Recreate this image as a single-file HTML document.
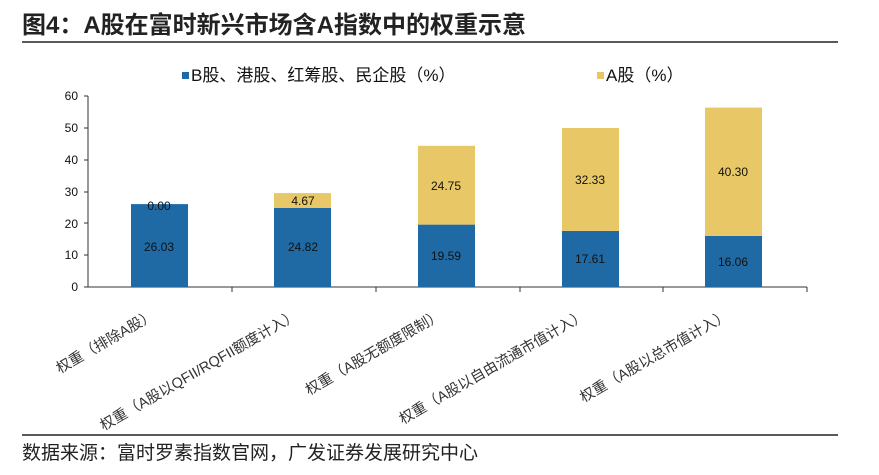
<!DOCTYPE html>
<html><head><meta charset="utf-8"><style>
body{margin:0;background:#fff;width:879px;height:475px;overflow:hidden}
svg{display:block}
</style></head><body>
<svg width="879" height="475" xmlns="http://www.w3.org/2000/svg" font-family="Liberation Sans, Noto Sans CJK SC, sans-serif">
<text x="22" y="33" font-size="24" font-weight="bold" fill="#222">图4：A股在富时新兴市场含A指数中的权重示意</text>
<line x1="22" y1="42" x2="838" y2="42" stroke="#222" stroke-width="1.5"/>
<rect x="182" y="72" width="7" height="7" fill="#1F6AA5"/>
<text x="191" y="81" font-size="17" fill="#111">B股、港股、红筹股、民企股（%）</text>
<rect x="597" y="72" width="7" height="7" fill="#E8C766"/>
<text x="606" y="81" font-size="17" fill="#111">A股（%）</text>
<g font-size="12" fill="#111" text-anchor="end">
<text x="78" y="100">60</text><text x="78" y="132">50</text><text x="78" y="164">40</text><text x="78" y="196">30</text><text x="78" y="228">20</text><text x="78" y="259">10</text><text x="78" y="291">0</text>
</g>
<g stroke="#333" stroke-width="1">
<line x1="88" y1="96" x2="88" y2="287"/>
<line x1="84" y1="96" x2="88" y2="96"/><line x1="84" y1="128" x2="88" y2="128"/><line x1="84" y1="160" x2="88" y2="160"/><line x1="84" y1="192" x2="88" y2="192"/><line x1="84" y1="223" x2="88" y2="223"/><line x1="84" y1="255" x2="88" y2="255"/><line x1="84" y1="287" x2="88" y2="287"/>
<line x1="88" y1="287" x2="807" y2="287"/>
<line x1="232" y1="287" x2="232" y2="292"/><line x1="376" y1="287" x2="376" y2="292"/><line x1="520" y1="287" x2="520" y2="292"/><line x1="663" y1="287" x2="663" y2="292"/><line x1="807" y1="287" x2="807" y2="292"/>
</g>
<g>
<rect x="131" y="204.1" width="57" height="82.9" fill="#1F6AA5"/>
<rect x="274" y="208" width="57" height="79" fill="#1F6AA5"/><rect x="274" y="193.1" width="57" height="14.9" fill="#E8C766"/>
<rect x="418" y="224.6" width="57" height="62.4" fill="#1F6AA5"/><rect x="418" y="145.8" width="57" height="78.8" fill="#E8C766"/>
<rect x="562" y="230.9" width="57" height="56.1" fill="#1F6AA5"/><rect x="562" y="128" width="57" height="102.9" fill="#E8C766"/>
<rect x="705" y="235.9" width="57" height="51.1" fill="#1F6AA5"/><rect x="705" y="107.6" width="57" height="128.3" fill="#E8C766"/>
</g>
<g font-size="12" fill="#111" text-anchor="middle">
<text x="159" y="210">0.00</text><text x="159" y="251">26.03</text>
<text x="303" y="205">4.67</text><text x="303" y="251">24.82</text>
<text x="446" y="190">24.75</text><text x="446" y="260">19.59</text>
<text x="590" y="184">32.33</text><text x="590" y="263">17.61</text>
<text x="733" y="176">40.30</text><text x="733" y="266">16.06</text>
</g>
<g font-size="14.5" fill="#333" text-anchor="end">
<text transform="translate(156,318) rotate(-30)">权重（排除A股）</text>
<text transform="translate(299,318) rotate(-30)">权重（A股以QFII/RQFII额度计入）</text>
<text transform="translate(443,318) rotate(-30)">权重（A股无额度限制）</text>
<text transform="translate(587,318) rotate(-30)">权重（A股以自由流通市值计入）</text>
<text transform="translate(730,318) rotate(-30)">权重（A股以总市值计入）</text>
</g>
<line x1="22" y1="435" x2="838" y2="435" stroke="#222" stroke-width="1.5"/>
<text x="22" y="459" font-size="19" fill="#222">数据来源：富时罗素指数官网，广发证券发展研究中心</text>
</svg>
</body></html>
